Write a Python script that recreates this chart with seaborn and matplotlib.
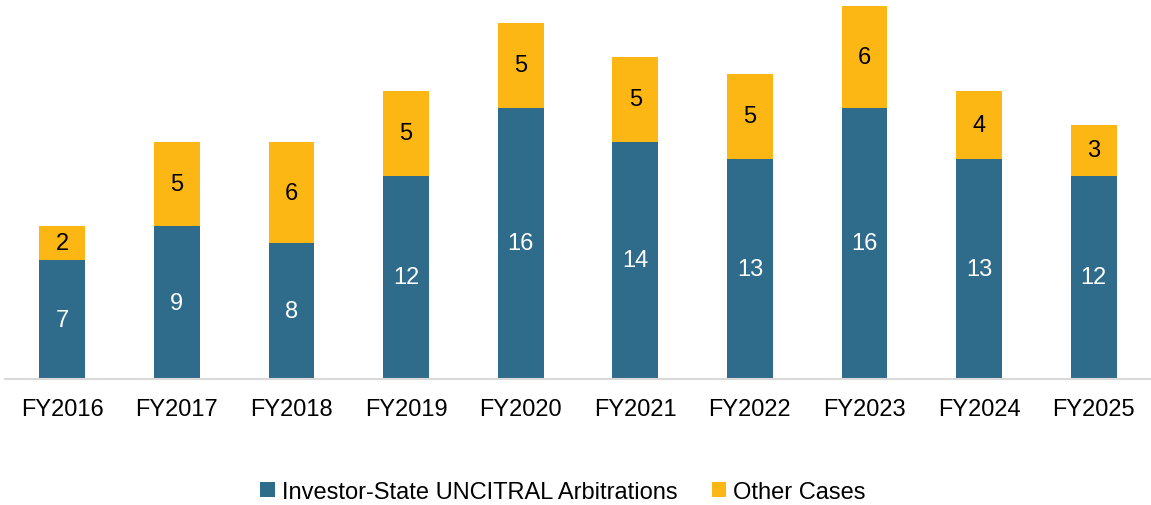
import matplotlib
matplotlib.use("Agg")
import matplotlib.pyplot as plt
import seaborn as sns
import pandas as pd
from matplotlib.patches import Patch

categories = ["FY2016", "FY2017", "FY2018", "FY2019", "FY2020",
              "FY2021", "FY2022", "FY2023", "FY2024", "FY2025"]
investor_state = [7, 9, 8, 12, 16, 14, 13, 16, 13, 12]
other_cases = [2, 5, 6, 5, 5, 5, 5, 6, 4, 3]
series_names = ["Investor-State UNCITRAL Arbitrations", "Other Cases"]

BLUE = "#2F6B8A"
ORANGE = "#FDB714"

sns.set_theme(style="white")
plt.rcParams["font.family"] = ["Liberation Sans", "DejaVu Sans"]
plt.rcParams["text.color"] = "black"

df = pd.DataFrame({
    "cat": categories,
    "inv": investor_state,
    "oth": other_cases,
})
df["total"] = df["inv"] + df["oth"]

W, H = 1151, 506
fig = plt.figure(figsize=(W / 100, H / 100), dpi=100)
ax = fig.add_axes([5 / W, (H - 380) / H, (W - 5) / W, 380 / H])

sns.barplot(data=df, x="cat", y="total", color=ORANGE, width=0.40,
            saturation=1, ax=ax, linewidth=0)
sns.barplot(data=df, x="cat", y="inv", color=BLUE, width=0.40,
            saturation=1, ax=ax, linewidth=0)

ax.set_xlim(-0.5, len(categories) - 0.5)
ax.set_ylim(0, 380 / 16.95)
ax.set_xlabel("")
ax.set_ylabel("")
ax.set_yticks([])
for s in ["top", "right", "left"]:
    ax.spines[s].set_visible(False)
ax.spines["bottom"].set_color("#D9D9D9")
ax.spines["bottom"].set_linewidth(1.5)
ax.tick_params(axis="x", length=0, pad=14, labelsize=17, labelcolor="black")

for i, (a, b) in enumerate(zip(investor_state, other_cases)):
    ax.text(i, a / 2, str(a), ha="center", va="center", color="white", fontsize=17)
    ax.text(i, a + b / 2, str(b), ha="center", va="center", color="black", fontsize=17)

handles = [Patch(facecolor=BLUE, edgecolor="none"), Patch(facecolor=ORANGE, edgecolor="none")]
fig.legend(handles, series_names, loc="center", bbox_to_anchor=(0.489, (H - 493) / H),
           ncol=2, frameon=False, fontsize=17, handlelength=0.6, handleheight=0.6,
           handletextpad=0.3, columnspacing=1.45, labelcolor="black")

fig.savefig("out.png", dpi=100)
